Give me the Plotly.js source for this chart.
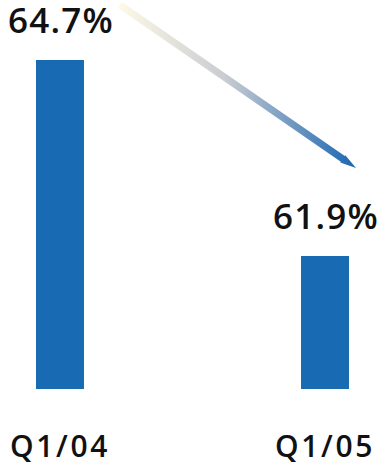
<!DOCTYPE html>
<html>
<head>
<meta charset="utf-8">
<script src="https://cdn.plot.ly/plotly-3.0.1.min.js"></script>
<style>
html,body{margin:0;padding:0;background:#fff;}
#chart{width:381px;height:465px;}
#chart .annotation-text{letter-spacing:1.2px;}
#chart .xtick text{letter-spacing:2.6px;}
</style>
</head>
<body>
<div id="chart"></div>
<script>
const categories = ['Q1/04', 'Q1/05'];
const values = [64.7, 61.9];
const valueLabels = ['64.7%', '61.9%'];

// decorative trend arrow, in pixel-like overlay coordinates (x right, y down)
const arrowX = [122.0, 344.8, 345.3, 356.0, 340.3, 340.8, 118.0];
const arrowY = [2.1, 156.0, 155.2, 168.0, 162.6, 161.8, 7.9];

const barColor = '#186ab2';
const textColor = '#111111';
const fontFamily = '"Open Sans", "Noto Sans", sans-serif';

const traces = [
  {
    type: 'bar',
    x: categories,
    y: values,
    width: 0.181,
    marker: {color: barColor},
    hoverinfo: 'skip'
  },
  {
    type: 'scatter',
    mode: 'lines',
    x: arrowX,
    y: arrowY,
    xaxis: 'x2',
    yaxis: 'y2',
    fill: 'toself',
    line: {width: 0},
    fillgradient: {
      type: 'horizontal',
      colorscale: [[0, '#fffae6'], [0.45, '#c9ccd1'], [1, '#1a66b3']]
    },
    hoverinfo: 'skip'
  }
];

const annotations = categories.map((c, i) => ({
  x: c,
  y: values[i],
  xref: 'x',
  yref: 'y',
  text: valueLabels[i],
  showarrow: false,
  xanchor: 'center',
  yanchor: 'bottom',
  yshift: 15,
  xshift: 1,
  font: {family: fontFamily, size: 35, weight: 600, color: textColor}
}));

const layout = {
  width: 381,
  height: 465,
  margin: {l: 0, r: 0, t: 0, b: 76},
  paper_bgcolor: '#ffffff',
  plot_bgcolor: '#ffffff',
  showlegend: false,
  xaxis: {
    type: 'category',
    range: [-0.2264, 1.2113],
    showgrid: false,
    zeroline: false,
    showline: false,
    ticks: '',
    ticklabelstandoff: 37,
    tickfont: {family: fontFamily, size: 30, weight: 600, color: textColor},
    fixedrange: true
  },
  yaxis: {
    range: [60, 65.557],
    visible: false,
    fixedrange: true
  },
  xaxis2: {overlaying: 'x', range: [0, 381], visible: false, fixedrange: true},
  yaxis2: {overlaying: 'y', range: [389, 0], visible: false, fixedrange: true},
  annotations: annotations
};

Plotly.newPlot('chart', traces, layout, {displayModeBar: false, staticPlot: true});
</script>
</body>
</html>
